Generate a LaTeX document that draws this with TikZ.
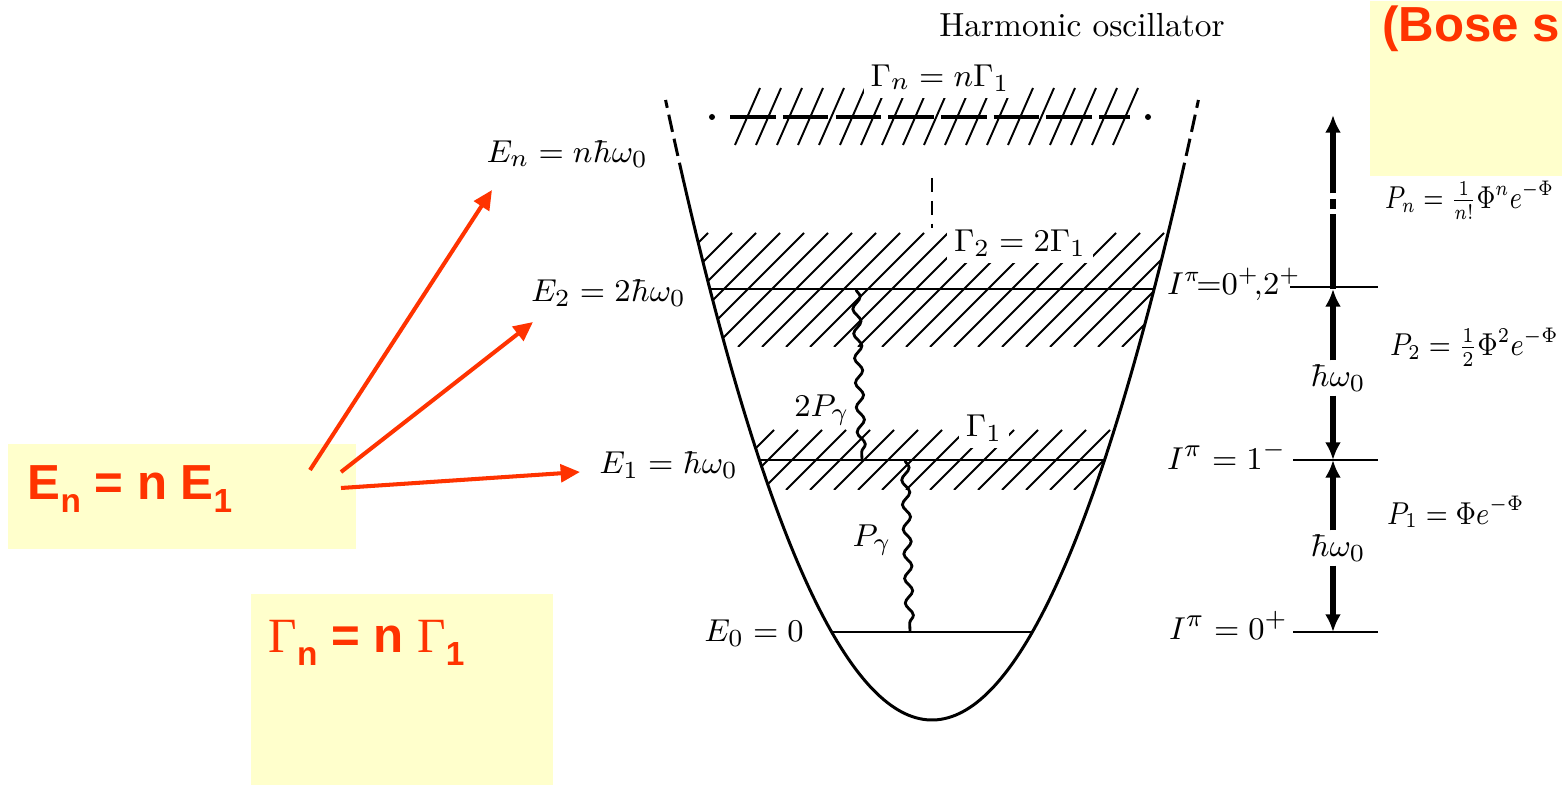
\documentclass[tikz,border=0pt]{standalone}
\usepackage{fontspec}
\usepackage{amsmath}
\usepackage{graphicx}
\newfontfamily\rsans{Liberation Sans}
\newfontfamily\rserif{Liberation Serif}
\usetikzlibrary{arrows.meta,decorations.pathmorphing}
\definecolor{pptred}{HTML}{FF3300}
\definecolor{pptyellow}{HTML}{FFFFCC}
\newcommand\rsub[1]{\raisebox{-3.6pt}{\fontsize{9.5}{9.5}\selectfont #1}}
\newcommand\narrow[2][0.87]{\scalebox{#1}[1]{#2}}
\begin{document}
\begin{tikzpicture}[x=0.01cm,y=-0.01cm,
  lvl/.style={line width=0.85pt},
  hatchline/.style={line width=0.55pt},
  lbl/.style={inner sep=1pt, font=\fontsize{9.5}{11}\selectfont},
  slbl/.style={inner sep=1pt, font=\fontsize{9}{11}\selectfont},
  mask/.style={lbl, fill=white, inner sep=2pt},
  note/.style={fill=pptyellow, draw=none, inner sep=0pt},
  redtxt/.style={text=pptred, inner sep=0pt, font=\rsans\bfseries\fontsize{14}{16}\selectfont},
  redarrow/.style={draw=pptred, line width=1.15pt, -{Triangle[length=5.5pt,width=5pt]}},
  photon/.style={line width=0.8pt, decorate, decoration={snake, amplitude=1.1pt, segment length=7pt}},
  bigarrow/.style={line width=1.8pt, -{Latex[length=5pt,width=4.5pt]}},
]
\useasboundingbox (0,0) rectangle (1562,785);
\fill[white] (0,0) rectangle (1562,785);

% ---------- hatching (drawn first) ----------
\begin{scope}
  \clip plot[domain=-24.9:24.9, samples=120] ({932+10.7*\x},{720-(\x)*(\x)}) -- cycle;
  \begin{scope}
    \clip (600,233) rectangle (1250,347);
    \foreach \i in {0,...,28} \draw[hatchline] ({570+24*\i},347) -- ++(114,-114);
  \end{scope}
  \begin{scope}
    \clip (600,430) rectangle (1250,490);
    \foreach \i in {0,...,20} \draw[hatchline] ({690+24*\i},490) -- ++(60,-60);
  \end{scope}
\end{scope}
\foreach \i in {0,...,18} \draw[hatchline] ({735+21*\i},145) -- ++(25,-57);

% ---------- potential ----------
\draw[lvl] plot[domain=-23.24:23.24, samples=140] ({932+10.7*\x},{720-(\x)*(\x)});
\draw[lvl, dash pattern=on 5pt off 2pt] plot[domain=23.24:24.9, samples=12] ({932+10.7*\x},{720-(\x)*(\x)});
\draw[lvl, dash pattern=on 5pt off 2pt] plot[domain=-23.24:-24.9, samples=12] ({932+10.7*\x},{720-(\x)*(\x)});

% ---------- levels ----------
\coordinate (L0) at (831.6,632); \coordinate (R0) at (1032.4,632);
\coordinate (L1) at (759.5,460); \coordinate (R1) at (1104.5,460);
\coordinate (L2) at (709.9,289); \coordinate (R2) at (1154.1,289);
\coordinate (Ln) at (730,117);   \coordinate (Rn) at (1130,117);
\draw[lvl] (L0) -- (R0);
\draw[lvl] (L1) -- (R1);
\draw[lvl] (L2) -- (R2);
\draw[line width=1.3pt, dash pattern=on 13pt off 2pt] (Ln) -- (Rn);
\fill (712,117) circle (3);
\fill (1148,117) circle (3);
\draw[line width=0.8pt, dash pattern=on 4pt off 2.5pt] (932,178) -- (932,228);

% ---------- photons ----------
\coordinate (ph2a) at (856,289); \coordinate (ph2b) at (862,460);
\coordinate (ph1a) at (905,460); \coordinate (ph1b) at (910,632);
\draw[photon] (ph2a) -- (ph2b);
\draw[photon] (ph1a) -- (ph1b);

% ---------- labels in diagram ----------
\node[lbl] (title) at (1082,25) {Harmonic oscillator};
\node[mask] (gn) at (940,78) {$\Gamma_n = n\Gamma_1$};
\node[mask] (g2) at (1020,243) {$\Gamma_2 = 2\Gamma_1$};
\node[mask] (g1) at (984,428) {$\Gamma_1$};
\node[lbl] (p2g) at (822,410) {$2P_\gamma$};
\node[lbl] (pg) at (872,540) {$P_\gamma$};

\node[lbl, anchor=base east] (enl) at (652,163) {$E_n = n\hbar\omega_0$};
\node[lbl, anchor=base east] (e2l) at (690,302) {$E_2 = 2\hbar\omega_0$};
\node[lbl, anchor=base east] (e1l) at (742,474) {$E_1 = \hbar\omega_0$};
\node[lbl, anchor=base east] (e0l) at (808,642) {$E_0 = 0$};

\node[slbl, anchor=base west] (i2) at (1163,295) {$I^{\pi}\!{=}0^+\!{,}2^+$};
\node[lbl, anchor=base west] (i1) at (1163,470) {$I^{\pi} = 1^-$};
\node[lbl, anchor=base west] (i0) at (1165,640) {$I^{\pi} = 0^+$};

\node[slbl, anchor=west] (pn) at (1381,200) {\narrow[0.8]{$P_n = \frac{1}{n!}\Phi^n e^{-\Phi}$}};
\node[slbl, anchor=west] (p2) at (1386,347) {\narrow{$P_2 = \frac{1}{2}\Phi^2 e^{-\Phi}$}};
\node[slbl, anchor=west] (p1) at (1383,512) {\narrow{$P_1 = \Phi e^{-\Phi}$}};

% ---------- right scale ----------
\draw[lvl] (1290,287) -- (1378,287);
\draw[lvl] (1293,460) -- (1378,460);
\draw[lvl] (1293,632) -- (1378,632);
\node[lbl] (hw1) at (1338,378) {$\hbar\omega_0$};
\node[lbl] (hw2) at (1338,548) {$\hbar\omega_0$};
\coordinate (s0) at (1333,632); \coordinate (s1) at (1333,460);
\coordinate (s2) at (1333,289); \coordinate (sn) at (1333,115);
\draw[bigarrow] (s2 |- hw1.north) -- (s2);
\draw[line width=1.8pt] (s2) -- (1333,225);
\draw[line width=1.8pt, dash pattern=on 3pt off 1.5pt] (1333,225) -- (1333,190);
\draw[bigarrow] (1333,190) -- (sn);
\draw[bigarrow] (s1 |- hw1.south) -- (s1);
\draw[bigarrow] (s1 |- hw2.north) -- (s1);
\draw[bigarrow] (s0 |- hw2.south) -- (s0);

% ---------- yellow notes ----------
\node[note, anchor=north west, minimum width=1.93cm, minimum height=1.75cm] (bosebox) at (1369,0) {};
\node[redtxt, anchor=base east] (bose) at (1561,42) {(Bose s};

\node[note, anchor=north west, minimum width=3.48cm, minimum height=1.05cm] (enbox) at (7,443) {};
\node[redtxt, anchor=base west] (entxt) at (27,500) {E\rsub{n} = n E\rsub{1}};

\node[note, anchor=north west, minimum width=3.02cm, minimum height=1.92cm] (gbox) at (250,593) {};
\node[redtxt, anchor=base west] (gtxt) at (268,653) {{\rserif\mdseries Γ}\rsub{n} = n {\rserif\mdseries Γ}\rsub{1}};

% ---------- red arrows ----------
\coordinate (a1s) at (310,470); \coordinate (a2s) at (341,472); \coordinate (a3s) at (341,488);
\coordinate (a1e) at (492,190); \coordinate (a2e) at (533,322); \coordinate (a3e) at (580,472);
\draw[redarrow] (a1s) -- (a1e);
\draw[redarrow] (a2s) -- (a2e);
\draw[redarrow] (a3s) -- (a3e);
\end{tikzpicture}
\end{document}
